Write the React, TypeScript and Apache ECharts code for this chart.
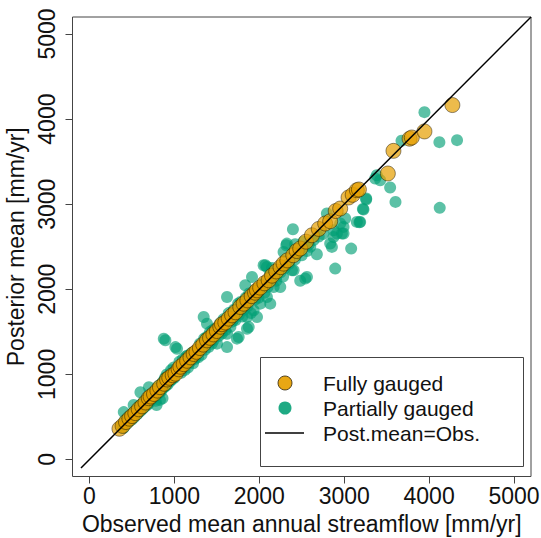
import React, { useEffect, useRef } from "react";
import * as echarts from "echarts";

const xTicks = [0, 1000, 2000, 3000, 4000, 5000];
const yTicks = [0, 1000, 2000, 3000, 4000, 5000];
const xTitle = "Observed mean annual streamflow [mm/yr]";
const yTitle = "Posterior mean [mm/yr]";
const legendLabels = ["Fully gauged", "Partially gauged", "Post.mean=Obs."];
const identityLine = [[-100, -100], [5200, 5200]];

const fullyGauged = [
  [353, 361], [390, 395], [430, 440], [470, 480], [502, 510], [540, 545], [580, 590], [620, 625],
  [660, 670], [698, 720], [720, 740], [760, 770], [800, 810], [830, 850], [880, 890], [914, 940],
  [940, 960], [980, 990], [1012, 1008], [1050, 1060], [1071, 1090], [1110, 1120], [1150, 1160],
  [1190, 1200], [1227, 1240], [1260, 1265], [1300, 1310], [1340, 1350], [1384, 1400], [1420, 1430],
  [1460, 1470], [1500, 1510], [1541, 1560], [1560, 1590], [1600, 1610], [1640, 1655], [1680, 1694],
  [1720, 1730], [1776, 1792], [1816, 1831], [1860, 1870], [1910, 1920], [1950, 1960], [1973, 1988],
  [2010, 2020], [2060, 2070], [2110, 2106], [2150, 2160], [2200, 2210], [2250, 2260], [2286, 2302],
  [2330, 2340], [2400, 2400], [2440, 2450], [2482, 2479], [2550, 2560], [2620, 2635], [2700, 2710],
  [2776, 2773], [2835, 2800], [2900, 2920], [2953, 2949], [3051, 3079], [3100, 3110], [3149, 3165],
  [3173, 3173], [3514, 3361], [3580, 3627], [3770, 3770], [3796, 3784], [3945, 3855], [4274, 4165],
];

const partiallyGauged = [
  [380, 400], [400, 370], [404, 557], [420, 460], [440, 420], [450, 490], [470, 450], [480, 520],
  [500, 470], [510, 540], [520, 640], [530, 500], [550, 580], [560, 530], [580, 620], [590, 560],
  [600, 640], [600, 790], [610, 580], [630, 600], [640, 680], [650, 620], [670, 700], [680, 640],
  [700, 660], [700, 850], [710, 750], [730, 700], [740, 780], [750, 720], [770, 740], [780, 820],
  [780, 690], [790, 760], [790, 640], [810, 860], [820, 780], [830, 700], [840, 800], [850, 890],
  [860, 830], [860, 720], [870, 920], [880, 850], [890, 960], [900, 870], [910, 1000], [920, 880],
  [930, 980], [950, 920], [960, 1050], [970, 940], [990, 1080], [1000, 960],
  [1012, 1321], [894, 1400], [875, 1420], [1031, 1302], [1060, 1150], [1080, 1020], [1100, 1180],
  [1120, 1050], [1140, 1210], [1150, 1220], [1160, 1080], [1180, 1140], [1200, 1250], [1220, 1130],
  [1240, 1180], [1250, 1200], [1267, 1282], [1280, 1200], [1300, 1360], [1320, 1230], [1345, 1674],
  [1350, 1420], [1384, 1596], [1360, 1290], [1380, 1440], [1400, 1320], [1420, 1500], [1420, 1380],
  [1440, 1360], [1450, 1520], [1460, 1400], [1480, 1540], [1502, 1361], [1520, 1450], [1540, 1600],
  [1550, 1500], [1560, 1480], [1580, 1650], [1600, 1520], [1620, 1478], [1620, 1910], [1620, 1321],
  [1640, 1720], [1660, 1560], [1680, 1620], [1700, 1760], [1700, 1650], [1720, 1640], [1737, 1420],
  [1750, 1830], [1757, 1439], [1760, 1700], [1780, 1850], [1800, 1680], [1820, 1760], [1835, 2047],
  [1855, 1537], [1855, 1674], [1875, 1557], [1840, 1900], [1860, 1800], [1880, 1950], [1900, 1720],
  [1914, 2145], [1933, 1753], [1950, 1880], [1970, 2000], [1973, 1674], [1990, 1900], [2012, 1831],
  [2030, 2060], [2051, 2282], [2071, 2282], [2090, 2262], [2090, 1910], [2060, 1960], [2100, 2030],
  [2129, 1831], [2130, 2190], [2150, 2250], [2169, 2027], [2200, 2100], [2200, 2150], [2247, 2027],
  [2250, 2200], [2280, 2150], [2286, 2439], [2300, 2250], [2318, 2518], [2325, 2537], [2384, 2224],
  [2396, 2706], [2404, 2224], [2350, 2300], [2420, 2350], [2423, 2529], [2450, 2420], [2482, 2100],
  [2520, 2560], [2541, 2126], [2561, 2145], [2500, 2400], [2560, 2450], [2580, 2520], [2600, 2500],
  [2640, 2580], [2678, 2412], [2700, 2620], [2750, 2650], [2796, 2890], [2835, 2537], [2855, 2498],
  [2874, 2694], [2874, 2615], [2894, 2243], [2914, 2655], [2953, 2773], [2973, 2655], [2992, 2733],
  [2992, 2655], [3012, 2832], [3082, 2478], [3149, 2792], [3188, 2792], [3180, 2788], [3227, 2938],
  [3220, 2945], [3259, 3067], [3259, 3055], [3365, 3302], [3384, 3341], [3424, 3282], [3541, 3196],
  [3604, 3027], [3675, 3745], [3945, 4082], [4121, 3729], [4329, 3753], [4125, 2957],
];

const FONT = "'Liberation Sans', Arial, sans-serif";

export default function App() {
  const ref = useRef<HTMLDivElement>(null);
  useEffect(() => {
    const chart = echarts.init(ref.current!, undefined, { renderer: "svg" });
    const axisCommon = {
      type: "value",
      min: -200,
      max: 5200,
      splitLine: { show: false },
      axisLine: { show: false, onZero: false },
      nameLocation: "middle",
      nameTextStyle: { fontFamily: FONT, fontSize: 23, color: "#111" },
      axisTick: { show: true, inside: false, length: 7, lineStyle: { color: "#444", width: 1 } },
    };
    const fmt = (v: number) => String(v);
    chart.setOption({
      animation: false,
      backgroundColor: "#fff",
      grid: {
        left: 72.5, right: 10, top: 17, bottom: 61.5,
        outerBoundsMode: "none", containLabel: false,
        show: true, borderColor: "#444", borderWidth: 1, backgroundColor: "transparent",
      },
      xAxis: {
        ...axisCommon,
        name: xTitle,
        nameGap: 35,
        axisTick: { ...axisCommon.axisTick, customValues: xTicks },
        axisLabel: {
          customValues: xTicks, formatter: fmt, margin: 8, fontFamily: FONT, fontSize: 23, color: "#111",
        },
      },
      yAxis: {
        ...axisCommon,
        name: yTitle,
        nameGap: 43,
        axisTick: { ...axisCommon.axisTick, customValues: yTicks },
        axisLabel: {
          customValues: yTicks, formatter: fmt, rotate: 90, margin: 14, fontFamily: FONT, fontSize: 23, color: "#111",
        },
      },
      series: [
        {
          name: legendLabels[1],
          type: "scatter",
          data: partiallyGauged,
          symbolSize: 12,
          itemStyle: { color: "rgba(0,158,115,0.8)" },
          z: 2,
        },
        {
          name: legendLabels[0],
          type: "scatter",
          data: fullyGauged,
          symbolSize: 15,
          itemStyle: { color: "rgba(230,159,0,0.88)", borderColor: "rgba(30,20,0,0.6)", borderWidth: 1 },
          z: 3,
        },
        {
          name: legendLabels[2],
          type: "line",
          data: identityLine,
          symbol: "none",
          lineStyle: { color: "#000", width: 1.5 },
          z: 4,
        },
      ],
      graphic: [
        {
          type: "group",
          z: 100,
          children: [
            { type: "rect", shape: { x: 260.5, y: 357.5, width: 263, height: 109 }, style: { fill: "#fff", stroke: "#444", lineWidth: 1 } },
            { type: "circle", shape: { cx: 285, cy: 383, r: 7 }, style: { fill: "rgba(230,159,0,0.92)", stroke: "rgba(30,20,0,0.75)", lineWidth: 1 } },
            { type: "circle", shape: { cx: 285, cy: 408, r: 6.5 }, style: { fill: "rgba(0,158,115,0.88)" } },
            { type: "line", shape: { x1: 265, y1: 433, x2: 304, y2: 433 }, style: { stroke: "#000", lineWidth: 1.5 } },
            { type: "text", x: 323, y: 383, style: { text: legendLabels[0], font: `21px ${FONT}`, fill: "#111", verticalAlign: "middle" } },
            { type: "text", x: 323, y: 408, style: { text: legendLabels[1], font: `21px ${FONT}`, fill: "#111", verticalAlign: "middle" } },
            { type: "text", x: 323, y: 433, style: { text: legendLabels[2], font: `21px ${FONT}`, fill: "#111", verticalAlign: "middle" } },
          ],
        },
      ],
    });
    return () => chart.dispose();
  }, []);
  return <div ref={ref} style={{ position: "fixed", left: 0, top: 0, width: 541, height: 538 }} />;
}
